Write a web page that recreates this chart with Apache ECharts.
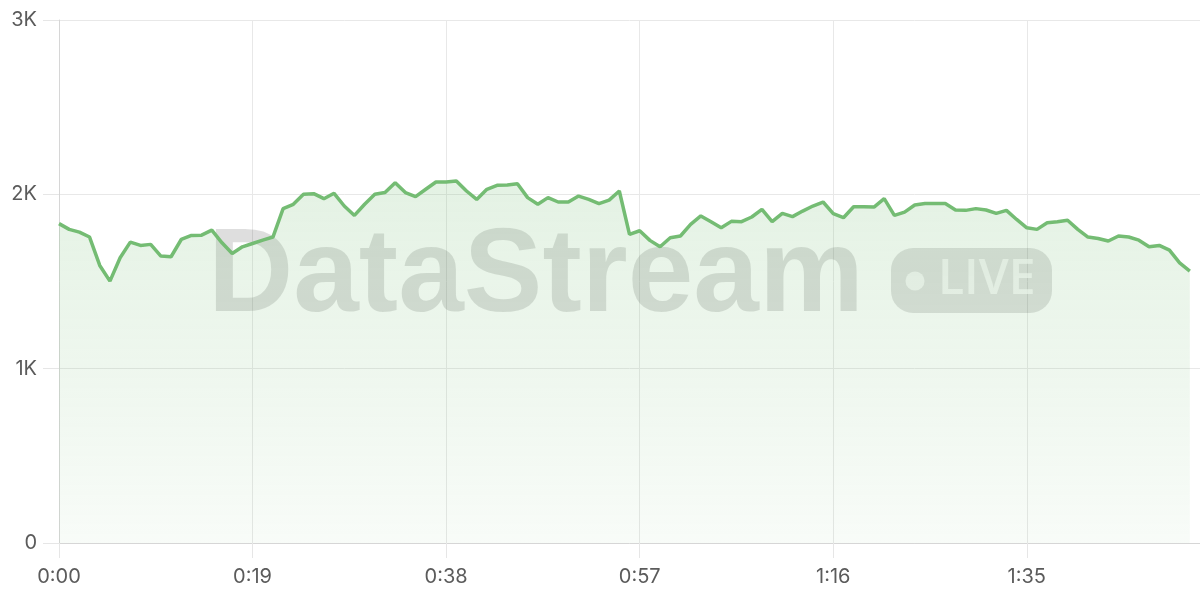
<!DOCTYPE html>
<html>
<head>
<meta charset="utf-8">
<script src="https://cdn.jsdelivr.net/npm/echarts@6/dist/echarts.min.js"></script>
<style>
html,body{margin:0;padding:0;background:#fff;}
#chart{width:1200px;height:600px;}
</style>
</head>
<body>
<div id="chart"></div>
<script>
// values sampled once per second, starting at 0:00
const values = [
  1832,1799,1783,1755,1592,1502,1636,1726,1707,1713,
  1646,1642,1741,1764,1766,1795,1722,1661,1699,1718,
  1737,1755,1918,1943,2000,2004,1975,2006,1933,1879,
  1943,2000,2010,2067,2010,1987,2029,2071,2071,2077,
  2019,1971,2029,2052,2054,2061,1981,1943,1981,1956,
  1956,1990,1971,1947,1967,2019,1770,1791,1736,1699,
  1751,1761,1828,1876,1843,1808,1845,1843,1870,1914,
  1843,1891,1872,1904,1933,1956,1889,1866,1929,1929,
  1927,1975,1879,1898,1939,1947,1947,1947,1910,1908,
  1918,1910,1891,1908,1856,1808,1799,1837,1843,1851,
  1799,1755,1747,1732,1761,1755,1737,1699,1707,1680,
  1607,1559
];
const seconds = values.map((_, i) => i);
const xTickSeconds = [0, 19, 38, 57, 76, 95];
const yTickLabels = ['0', '1K', '2K', '3K'];
const watermarkText = 'DataStream';
const badgeText = 'LIVE';

function fmtTime(s) {
  const m = Math.floor(s / 60);
  const r = s % 60;
  return m + ':' + (r < 10 ? '0' + r : r);
}

const chart = echarts.init(document.getElementById('chart'));
const labelFont = { color: '#5b5b5b', fontSize: 20, fontFamily: 'Inter, "Noto Sans", sans-serif' };

chart.setOption({
  animation: false,
  grid: { left: 59, right: 0, top: 20, bottom: 57 },
  xAxis: {
    type: 'value',
    min: 0,
    max: 112,
    interval: 19,
    axisLine: { show: true, lineStyle: { color: '#d6d6d6', width: 1 } },
    axisTick: { show: true, length: 15, lineStyle: { color: '#e6e6e6' } },
    splitLine: { show: true, lineStyle: { color: '#e8e8e8', width: 1 } },
    axisLabel: Object.assign({
      margin: 24,
      showMaxLabel: false,
      formatter: v => (xTickSeconds.indexOf(v) >= 0 ? fmtTime(v) : '')
    }, labelFont)
  },
  yAxis: {
    type: 'value',
    min: 0,
    max: 3000,
    interval: 1000,
    axisLine: { show: true, lineStyle: { color: '#d6d6d6', width: 1 } },
    axisTick: { show: true, length: 16, lineStyle: { color: '#e6e6e6' } },
    splitLine: { show: true, lineStyle: { color: '#e8e8e8', width: 1 } },
    axisLabel: Object.assign({
      margin: 22,
      formatter: v => yTickLabels[Math.round(v / 1000)]
    }, labelFont)
  },
  graphic: [
    {
      type: 'text', z: 1, left: 208, top: 219,
      style: {
        text: watermarkText,
        font: 'bold 118px "Liberation Sans", Arial, sans-serif',
        fill: 'rgba(0,0,0,0.13)'
      }
    },
    {
      type: 'rect', z: 1,
      shape: { x: 891, y: 248, width: 161, height: 65, r: 22 },
      style: { fill: 'rgba(0,0,0,0.12)' }
    },
    {
      type: 'circle', z: 1,
      shape: { cx: 915, cy: 281, r: 9.5 },
      style: { fill: 'rgba(255,255,255,0.7)' }
    },
    {
      type: 'text', z: 1, left: 938, top: 256,
      style: {
        text: badgeText,
        font: '600 48px "Open Sans", sans-serif',
        fill: 'rgba(255,255,255,0.7)'
      }
    }
  ],
  series: [{
    type: 'line',
    z: 2,
    data: seconds.map((s, i) => [s, values[i]]),
    showSymbol: false,
    symbol: 'none',
    lineStyle: { color: '#74bc73', width: 3.5 },
    areaStyle: {
      color: new echarts.graphic.LinearGradient(0, 0, 0, 1, [
        { offset: 0, color: 'rgba(116,188,115,0.28)' },
        { offset: 1, color: 'rgba(116,188,115,0.07)' }
      ])
    }
  }]
});
</script>
</body>
</html>
